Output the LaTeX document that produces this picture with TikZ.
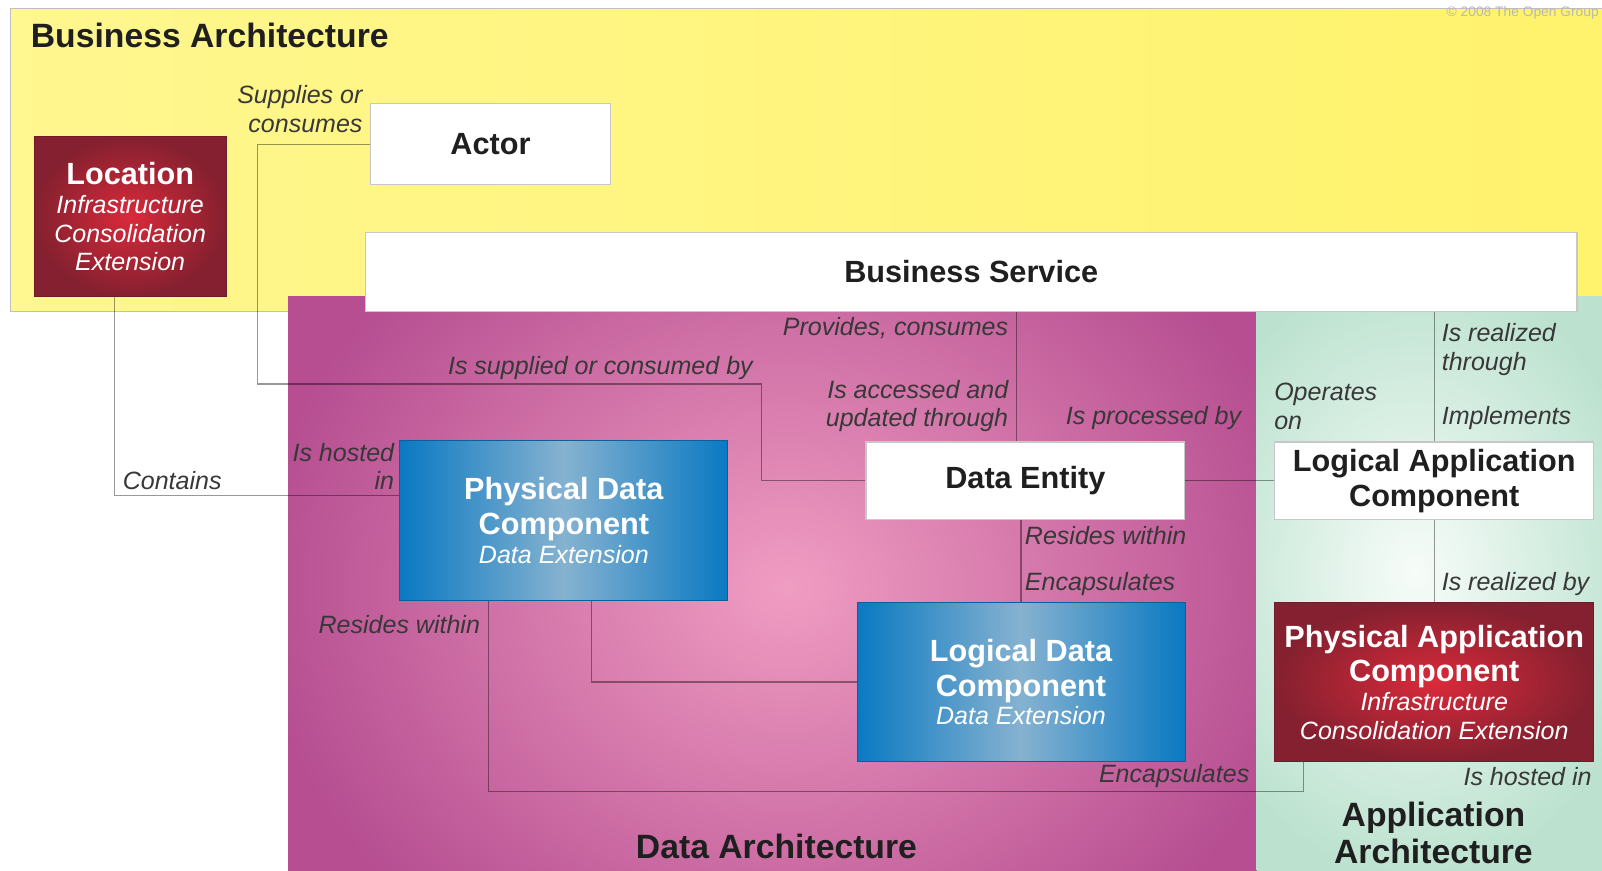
\documentclass[tikz,border=0pt]{standalone}
\usepackage{fontspec}
\setmainfont{Liberation Sans}
\usetikzlibrary{positioning}

\definecolor{bayellowl}{HTML}{FFF78F}
\definecolor{bayellowr}{HTML}{FFF26B}
\definecolor{dapinkout}{HTML}{B64E91}
\definecolor{dapinkin}{HTML}{F09DC2}
\definecolor{aagreenout}{HTML}{BCE2CF}
\definecolor{aagreenin}{HTML}{F7FCF9}
\definecolor{boxblueout}{HTML}{0A79C2}
\definecolor{boxbluein}{HTML}{86B2D0}
\definecolor{boxredout}{HTML}{84202F}
\definecolor{boxredin}{HTML}{DA2A3B}
\definecolor{labelgray}{HTML}{383838}

\newcommand{\mysub}{\fontsize{24.5}{28}\selectfont\mdseries\itshape}

\begin{document}
\begin{tikzpicture}[x=1pt,y=-1pt,
    mywhitebox/.style={
        rectangle,
        draw=black!22,
        line width=1.2pt,
        fill=white,
        anchor=north west,
        inner sep=0pt,
        align=center,
        text=black!88,
        font=\fontsize{30}{34}\selectfont\bfseries},
    mybluebox/.style={
        rectangle,
        draw=boxblueout!80!black,
        line width=0.8pt,
        left color=boxblueout,
        right color=boxblueout,
        middle color=boxbluein,
        anchor=north west,
        minimum width=321pt,
        minimum height=156pt,
        inner sep=0pt,
        align=center,
        text=white,
        font=\fontsize{30}{34}\selectfont\bfseries},
    myredbox/.style={
        rectangle,
        draw=boxredout!85!black,
        line width=0.8pt,
        inner color=boxredin,
        outer color=boxredout,
        anchor=north west,
        inner sep=0pt,
        align=center,
        text=white,
        font=\fontsize{30}{34}\selectfont\bfseries},
    mylabel/.style={
        inner sep=0pt,
        text=labelgray,
        font=\fontsize{24.5}{28}\selectfont\itshape},
    mytitle/.style={
        inner sep=0pt,
        align=center,
        text=black!88,
        font=\fontsize{33}{36}\selectfont\bfseries},
    myline/.style={draw=black, draw opacity=0.4, line width=1.3pt}
    ]
    \path[use as bounding box] (0,0) rectangle (1568,852);
    \fill[white] (0,0) rectangle (1568,852);

    % architecture areas
    \draw[draw=black!25, line width=1pt, left color=bayellowl, right color=bayellowr]
        (10,8) rectangle (1600,305);
    \begin{scope}
        \clip (282,290) rectangle (1230,880);
        \fill[inner color=dapinkin, outer color=dapinkout]
            (250,135) rectangle (1290,1015);
    \end{scope}
    \begin{scope}
        \clip (1230,290) rectangle (1600,880);
        \fill[inner color=aagreenin, outer color=aagreenout]
            (1155,260) rectangle (1615,860);
    \end{scope}

    \node[mytitle, anchor=west] (batitle) at (30,35) {Business Architecture};
    \node[mytitle] (datitle) at (760,828) {Data Architecture};
    \node[mytitle] (aatitle) at (1403,815) {Application\\Architecture};
    \node[inner sep=0pt, anchor=east, text=black!28, font=\fontsize{13.5}{14}\selectfont]
        (copyr) at (1565,13) {© 2008 The Open Group};

    \node[myredbox, minimum width=188pt, minimum height=157pt] (loc) at (33,133)
        {Location\\[-5pt]\mysub Infrastructure\\[-6pt]\mysub Consolidation\\[-6pt]\mysub Extension};
    \node[mywhitebox, minimum width=235pt, minimum height=79pt] (actor) at (362,101) {Actor};
    \node[mywhitebox, minimum width=1186pt, minimum height=77pt] (bizsvc) at (357,227) {Business Service};
    \node[mywhitebox, minimum width=312pt, minimum height=76pt] (dataent) at (847,432) {Data Entity};
    \node[mywhitebox, minimum width=312pt, minimum height=76pt,
        right=87pt of dataent.north east, anchor=north west] (logapp) {Logical Application\\Component};
    \node[mybluebox] (physdata) at (391,431)
        {Physical Data\\Component\\[-6pt]\mysub Data Extension};
    \node[mybluebox, below=80pt of dataent.south east, anchor=north east] (logdata)
        {Logical Data\\Component\\[-6pt]\mysub Data Extension};
    \node[myredbox, minimum width=312pt, minimum height=156pt,
        below=80pt of logapp.south, anchor=north] (physapp)
        {Physical Application\\Component\\[-6pt]\mysub Infrastructure\\[-6pt]\mysub Consolidation Extension};

    \coordinate (supbend1) at (252,376);
    \coordinate (supbend2) at (745,376);
    \coordinate (hostbend) at (112,485);
    \coordinate (provx) at (995,0);
    \coordinate (realbend) at (579,665);
    \coordinate (encbend1) at (478,775);
    \coordinate (encbend2) at (1276,775);

    \draw[myline] (actor.west) -| (supbend1) -- (supbend2) |- (dataent.west);
    \draw[myline] (hostbend |- loc.south) -- (hostbend) -- (hostbend -| physdata.west);
    \draw[myline] (provx |- bizsvc.south) -- (provx |- dataent.north);
    \draw[myline] (dataent.east) -- (logapp.west);
    \draw[myline] (realbend |- physdata.south) |- (logdata.west);
    \draw[myline] (encbend1 |- physdata.south) -- (encbend1) -- (encbend2) -- (encbend2 |- physapp.south);
    \foreach \i/\j in {logapp/bizsvc, logdata/dataent, physapp/logapp}
        \draw[myline] (\i.north) -- (\i.north |- \j.south);

    \foreach \n/\x/\y/\a/\al/\txt in {% name/x/y/anchor/alignment/text
        lsupp/355/107/east/right/{Supplies or\\consumes},
        lsuppby/737/360/east/right/{Is supplied or consumed by},
        lcont/120/470/west/left/{Contains},
        lhost/386/456.5/east/right/{Is hosted\\in},
        lprov/987/321/east/right/{Provides, consumes},
        lacc/987/397.5/east/right/{Is accessed and\\updated through},
        lproc/1215/409/east/right/{Is processed by},
        loper/1247/397.5/west/left/{Operates\\on},
        lrealthr/1411/342/west/left/{Is realized\\through},
        limpl/1411/409/west/left/{Implements},
        lres/1003/524/west/left/{Resides within},
        lenc/1003/572/west/left/{Encapsulates},
        lrealby/1411/572/west/left/{Is realized by},
        lres2/470/611/east/right/{Resides within},
        lenc2/1223/760/east/right/{Encapsulates},
        lhost2/1558/760/east/right/{Is hosted in}}
        \node[mylabel, anchor=\a, align=\al] (\n) at (\x,\y) {\txt};
\end{tikzpicture}
\end{document}
